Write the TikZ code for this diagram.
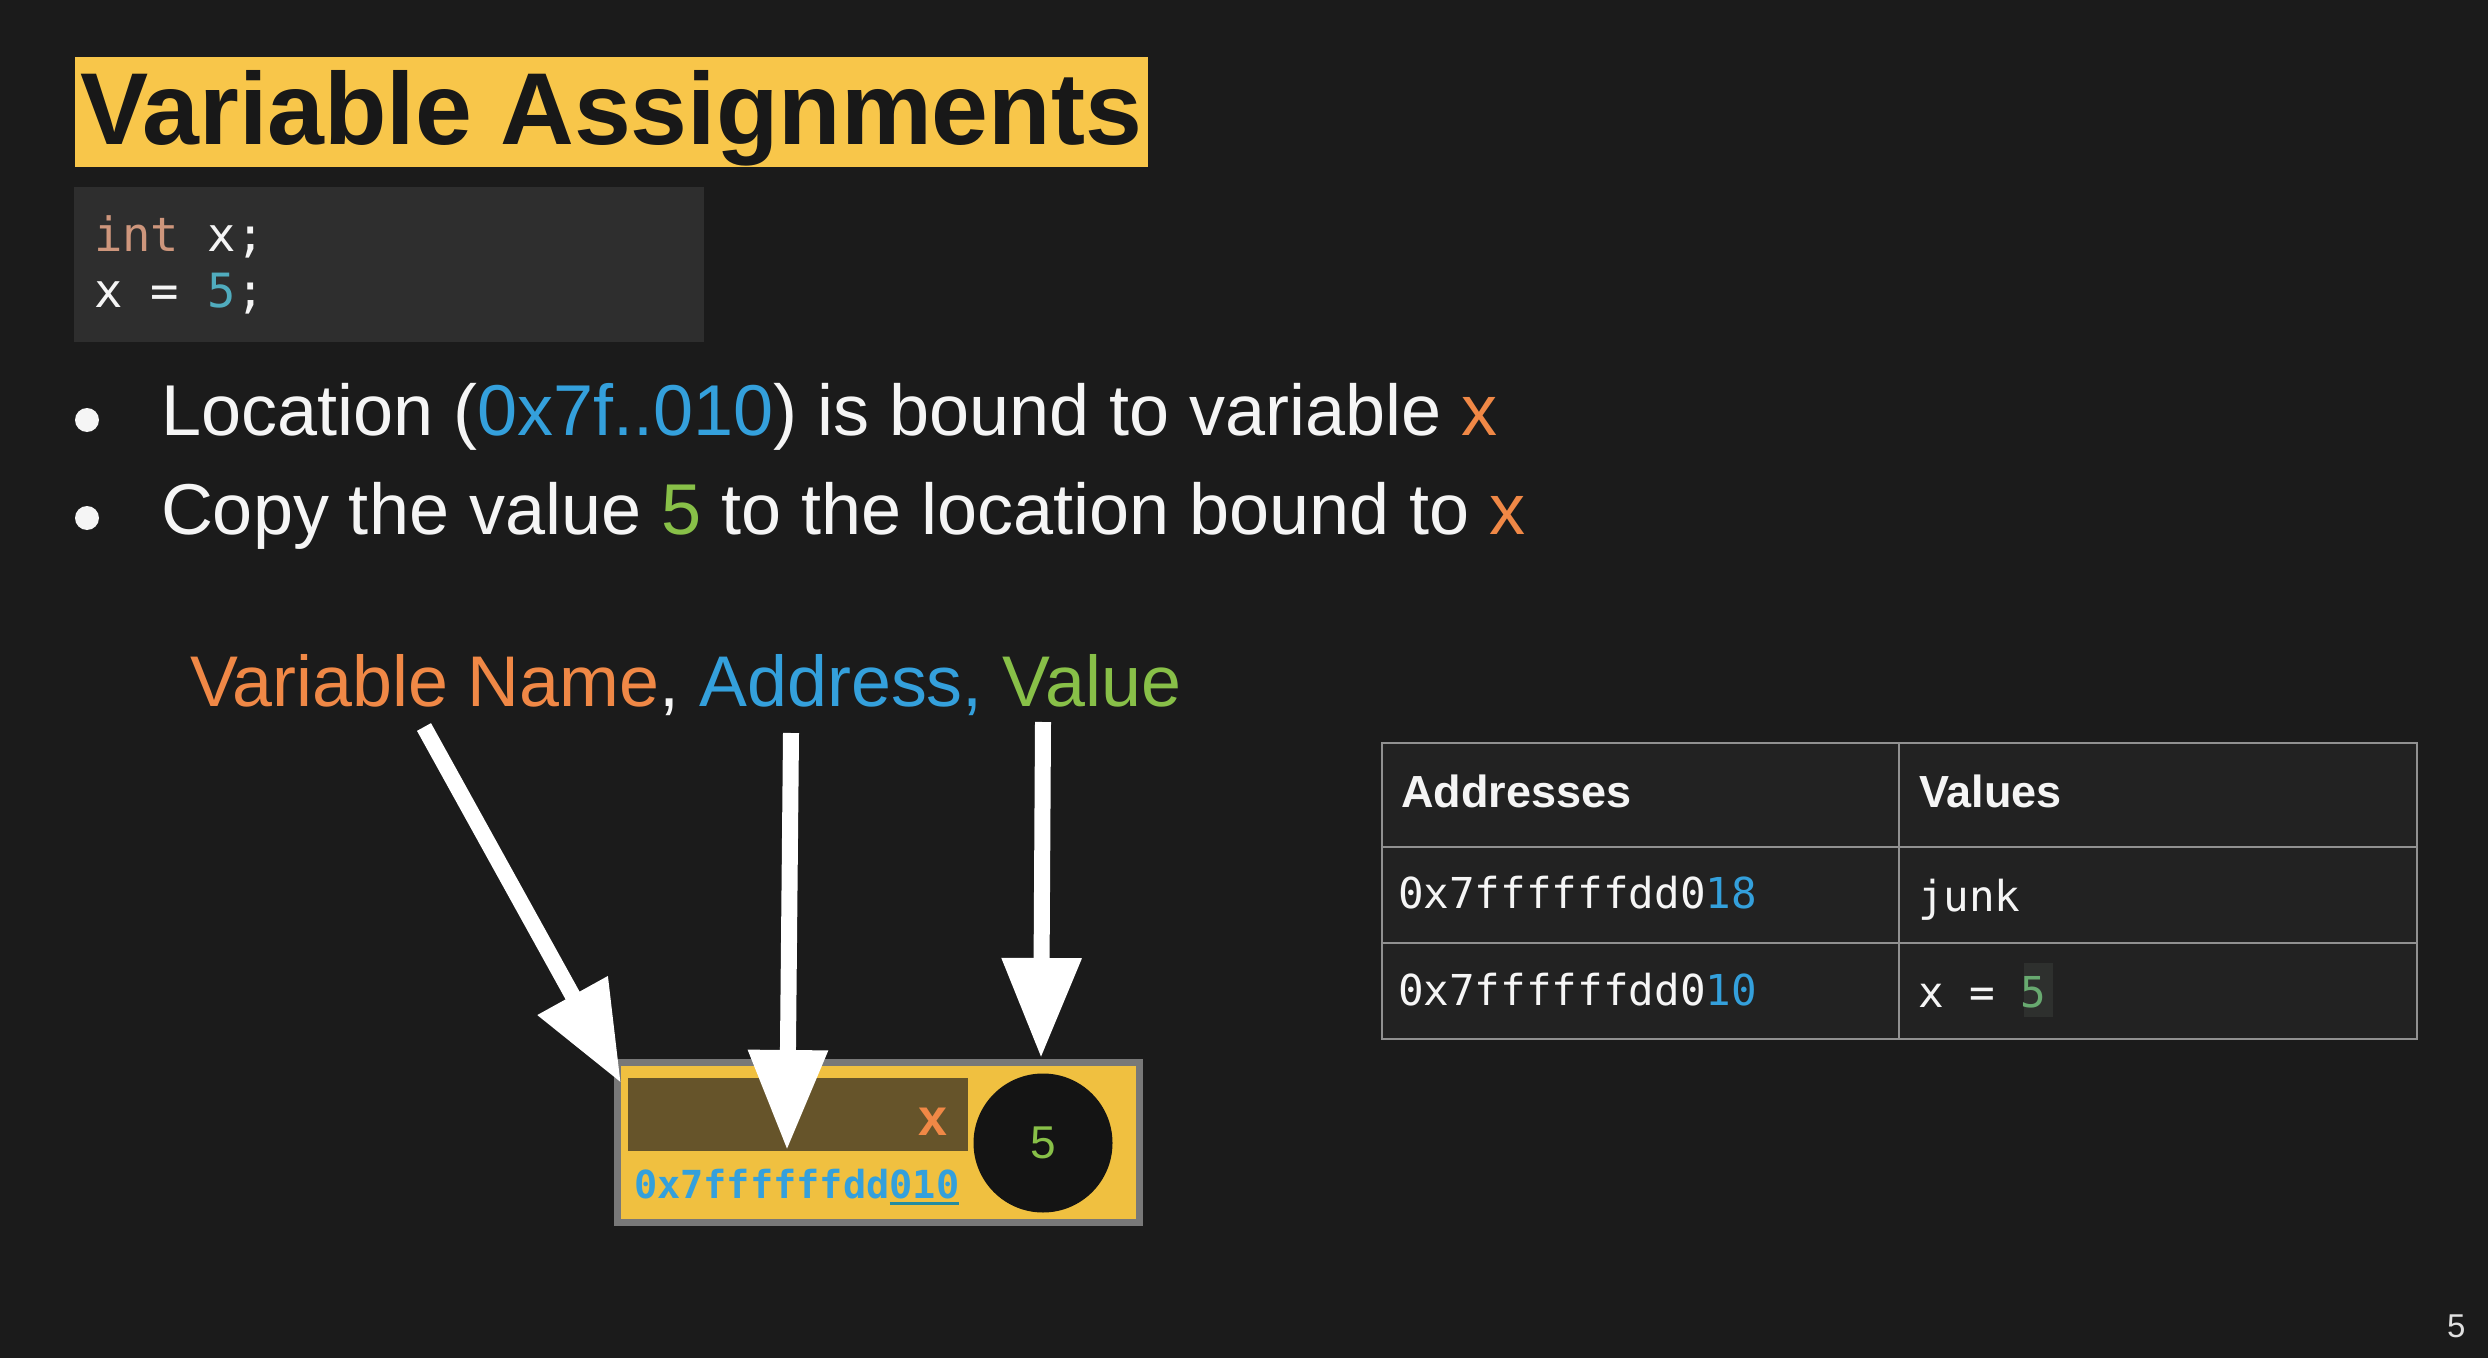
\documentclass[tikz,border=0pt]{standalone}
\usepackage{fontspec}
\setmainfont{Liberation Sans}
\newfontfamily\codefont{DejaVu Sans Mono}
\usetikzlibrary{arrows.meta}

\definecolor{bg}{RGB}{27,27,27}
\definecolor{titleyellow}{RGB}{248,198,74}
\definecolor{titletext}{RGB}{24,24,24}
\definecolor{codebg}{RGB}{46,46,46}
\definecolor{kwbrown}{RGB}{206,150,124}
\definecolor{numteal}{RGB}{80,172,190}
\definecolor{addrblue}{RGB}{52,160,220}
\definecolor{varorange}{RGB}{240,136,70}
\definecolor{valgreen}{RGB}{136,192,72}
\definecolor{boxyellow}{RGB}{240,192,64}
\definecolor{boxgray}{RGB}{120,120,120}
\definecolor{fieldbrown}{RGB}{102,84,42}
\definecolor{circblack}{RGB}{20,20,20}
\definecolor{ulteal}{RGB}{36,140,160}
\definecolor{tblline}{RGB}{145,145,145}
\definecolor{tblcell}{RGB}{34,34,34}
\definecolor{tblgreen}{RGB}{104,170,112}
\definecolor{hlgray}{RGB}{46,48,46}
\definecolor{softwhite}{RGB}{245,245,245}

\newcommand\fsz[1]{\fontsize{#1}{#1}\selectfont}

\begin{document}
\begin{tikzpicture}[x=0.5pt,y=-0.5pt,
  txt/.style={anchor=base west, inner sep=0pt, outer sep=0pt, text=softwhite},
  bigarrow/.style={draw=white, line width=8pt, -{Triangle[length=50pt,width=38pt]}},
  bulletdot/.style={circle, fill=softwhite, inner sep=0pt, minimum size=12pt},
  tblhead/.style={txt, font=\bfseries\fsz{22.5}},
  tblmono/.style={txt, font=\codefont\fsz{21.3}},
]
\useasboundingbox (0,0) rectangle (2488,1358);
\fill[bg] (0,0) rectangle (2488,1358);

% title banner
\fill[titleyellow] (75,57) rectangle (1148,167);
\node[txt, text=titletext, font=\bfseries\fsz{51.1}] (title) at (80,145) {Variable Assignments};

% code snippet
\fill[codebg] (74,187) rectangle (704,342);
\node[txt, font=\codefont\fsz{23.6}] (code1) at (94,252) {\textcolor{kwbrown}{int} x;};
\node[txt, font=\codefont\fsz{23.6}] (code2) at (94,308) {x = \textcolor{numteal}{5};};

% bullet points
\node[bulletdot] (b1) at (87,420) {};
\node[txt, font=\fsz{36}] (line1) at (161,435)
  {Location (\textcolor{addrblue}{0x7f..010}) is bound to variable \textcolor{varorange}{x}};
\node[bulletdot] (b2) at (87,518) {};
\node[txt, font=\fsz{36}] (line2) at (161,534)
  {Copy the value \textcolor{valgreen}{5} to the location bound to \textcolor{varorange}{x}};

% legend
\node[txt, font=\fsz{35.9}] (legend) at (190,706)
  {\textcolor{varorange}{Variable Name}, \textcolor{addrblue}{Address,} \textcolor{valgreen}{Value}};

% variable box: name field, address and value circle
\node[draw=boxgray, line width=3.5pt, fill=boxyellow, minimum width=261pt, minimum height=80pt, inner sep=0pt] (varbox) at (878.5,1142.5) {};
\node[fill=fieldbrown, minimum width=170pt, minimum height=36.5pt, inner sep=0pt] (field) at (798,1114.5) {};
\node[anchor=base, inner sep=0pt, text=varorange, font=\bfseries\fsz{26}] (xname) at (933,1135) {x};
\node[circle, fill=circblack, minimum size=69.5pt, inner sep=0pt] (valcirc) at (1043,1143) {};
\node[inner sep=0pt, text=valgreen, font=\fsz{23}] (val) at (valcirc.center) {5};
\node[txt, text=addrblue, font=\codefont\bfseries\fsz{19.3}] (addrhi) at (634,1198) {0x7ffffffdd};
\node[txt, text=addrblue, font=\codefont\bfseries\fsz{19.3}] (addrlo) at (addrhi.base east) {010};
\draw[ulteal, line width=1.5pt] ([yshift=-2.5pt]addrlo.base west) -- ([yshift=-2.5pt]addrlo.base east);

% arrows from the legend to the box
\coordinate (nameFrom) at (424,727);
\coordinate (nameTo) at (621,1083);
\coordinate (addrFrom) at (791,733);
\coordinate (addrTo) at (787,1150);
\coordinate (valFrom) at (1043,722);
\coordinate (valTo) at (1041,1058);
\draw[bigarrow] (nameFrom) -- (nameTo);
\draw[bigarrow] (addrFrom) -- (addrTo);
\draw[bigarrow] (valFrom) -- (valTo);

% memory table
\fill[tblcell] (1382,743) rectangle (2417,1039);
\fill[hlgray] (2024,963) rectangle (2053,1017);
\draw[tblline, line width=1.3pt] (1382,743) rectangle (2417,1039);
\draw[tblline, line width=1.3pt] (1899,743) -- (1899,1039);
\draw[tblline, line width=1.3pt] (1382,847) -- (2417,847);
\draw[tblline, line width=1.3pt] (1382,943) -- (2417,943);
\node[tblhead] (hAddr) at (1401,807) {Addresses};
\node[tblhead] (hVal) at (1919,807) {Values};
\node[tblmono] (r1a) at (1398,908) {0x7ffffffdd0\textcolor{addrblue}{18}};
\node[tblmono] (r1v) at (1918,911) {junk};
\node[tblmono] (r2a) at (1398,1005) {0x7ffffffdd0\textcolor{addrblue}{10}};
\node[tblmono] (r2v) at (1918,1007) {x = \textcolor{tblgreen}{5}};

% slide number
\node[txt, text=white!88!black, font=\fsz{16.5}] (pageno) at (2447,1337) {5};
\end{tikzpicture}
\end{document}
